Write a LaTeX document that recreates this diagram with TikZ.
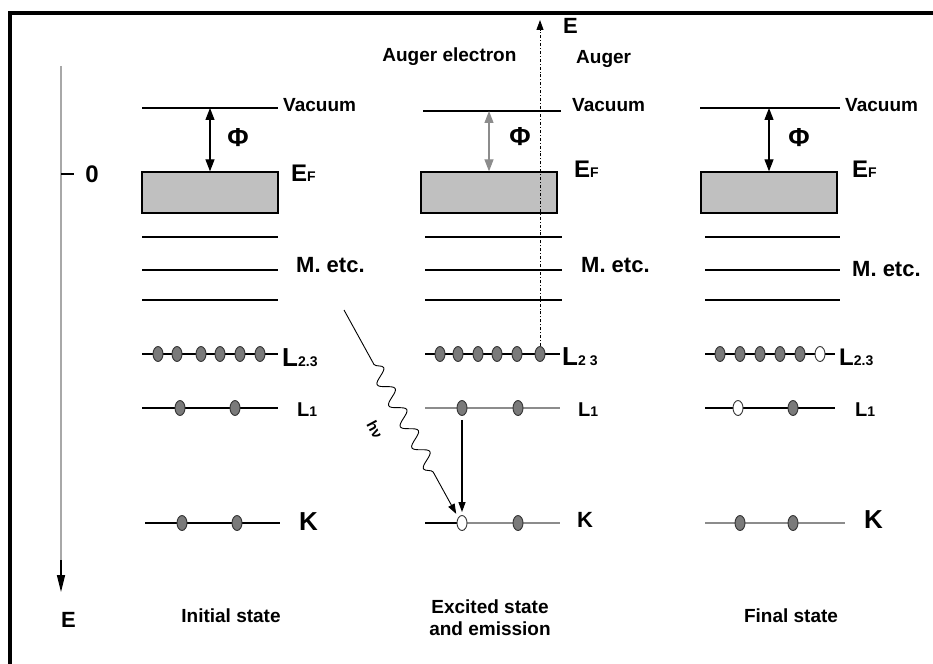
\documentclass[tikz,border=0pt]{standalone}
\usepackage{fontspec}
\setmainfont{Liberation Sans}
\usetikzlibrary{arrows.meta,calc,positioning,shapes.geometric,decorations.pathmorphing}
\definecolor{BandGray}{HTML}{C0C0C0}
\definecolor{ElecGray}{HTML}{7A7A7A}
\definecolor{AxisGray}{HTML}{A8A8A8}
\definecolor{FaintLine}{HTML}{8C8C8C}

% level symbol with a small index on the same baseline
\newcommand{\shellsub}[3]{{\fontsize{#3}{#3}\selectfont #1}{\fontsize{14}{14}\selectfont #2}}

\begin{document}
\begin{tikzpicture}[
    x=1pt, y=-1pt,
    font=\bfseries\fontsize{19}{22}\selectfont,
    >={Triangle[length=10pt,width=7pt]},
    lvl/.style={line width=1.3pt},
    faint/.style={line width=1.3pt,draw=FaintLine},
    band/.style={draw,fill=BandGray,line width=1.3pt,minimum width=136pt,minimum height=41pt,inner sep=0pt},
    elec/.style={ellipse,draw=black!80,fill=ElecGray,line width=0.9pt,minimum width=10pt,minimum height=15pt,inner sep=0pt},
    hole/.style={elec,fill=white},
    lbl/.style={anchor=base west,inner sep=0pt},
    big/.style={font=\bfseries\fontsize{22}{24}\selectfont},
    huge/.style={font=\bfseries\fontsize{26}{28}\selectfont},
    arr/.style={->,line width=1.2pt},
    dbl/.style={{Triangle[length=12pt,width=9pt]}-{Triangle[length=12pt,width=9pt]},line width=1.2pt},
    photon/.style={->,line width=0.9pt,shorten >=4pt,decorate,
      decoration={snake,amplitude=7pt,segment length=24pt,pre length=62pt,post length=44pt}}
  ]
  \useasboundingbox (0,0) rectangle (933,663);
  \draw[line width=4pt] (10,670) -- (10,13) -- (940,13);

  % energy axis
  \coordinate (axtop) at (61,66);
  \coordinate (axbot) at (61,592);
  \draw[AxisGray,line width=1.6pt] (axtop) -- (61,574);
  \draw[-{Triangle[length=17pt,width=8pt]},line width=1.3pt] (61,560) -- (axbot);
  \draw[line width=1.2pt] (61,174) -- (74,174);
  \node[font=\bfseries\fontsize{24}{24}\selectfont] (zero) at (92,174) {0};
  \node[lbl,font=\bfseries\fontsize{22}{22}\selectfont] (eaxis) at (61,627) {E};

  % initial state
  \draw[lvl] (142,108) -- (278,108);
  \node[lbl] (vac1) at (283,112) {Vacuum};
  \node[band] (band1) at (210,192.5) {};
  \node[lbl] (ef1) at (291,182) {\shellsub{E}{F}{24}};
  \draw[dbl] (band1.north |- 0,108) -- (band1.north);
  \node[huge] (phi1) at (238,138) {Φ};
  \draw[lvl] (142,237) -- (278,237);
  \draw[lvl] (142,270) -- (278,270);
  \draw[lvl] (142,300) -- (278,300);
  \node[lbl,big] (m1) at (296,272) {M. etc.};
  \draw[lvl] (142,354) -- (278,354);
  \node[elec] (l23a1) at (158,354) {};
  \node[elec] (l23b1) at (177,354) {};
  \node[elec] (l23c1) at (201,354) {};
  \node[elec] (l23d1) at (220,354) {};
  \node[elec] (l23e1) at (240,354) {};
  \node[elec] (l23f1) at (260,354) {};
  \node[lbl] (l23lbl1) at (282,366) {\shellsub{L}{2.3}{26}};
  \draw[lvl] (142,408) -- (278,408);
  \node[elec] (l1a1) at (180,408) {};
  \node[elec] (l1b1) at (235,408) {};
  \node[lbl] (l1lbl1) at (297,416) {\shellsub{L}{1}{20}};
  \draw[lvl] (145,523) -- (280,523);
  \node[elec] (ka1) at (182,523) {};
  \node[elec] (kb1) at (237,523) {};
  \node[lbl,huge] (klbl1) at (299,530) {K};
  \node (init) at (231,616) {Initial state};

  % excited state and emission
  \draw[lvl] (423,111) -- (561,111);
  \node[lbl] (vac2) at (572,112) {Vacuum};
  \node[band] (band2) at (489,192.5) {};
  \node[lbl] (ef2) at (574,177) {\shellsub{E}{F}{24}};
  \draw[dbl,draw=FaintLine,fill=black] (band2.north |- 0,111) -- (band2.north);
  \node[huge] (phi2) at (520,137) {Φ};
  \draw[lvl] (425,237) -- (562,237);
  \draw[lvl] (425,270) -- (562,270);
  \draw[lvl] (425,300) -- (562,300);
  \node[lbl,big] (m2) at (581,272) {M. etc.};
  \draw[lvl] (425,354) -- (560,354);
  \node[elec] (l23a2) at (440,354) {};
  \node[elec] (l23b2) at (458,354) {};
  \node[elec] (l23c2) at (478,354) {};
  \node[elec] (l23d2) at (497,354) {};
  \node[elec] (l23e2) at (517,354) {};
  \node[elec] (l23f2) at (540,354) {};
  \node[lbl] (l23lbl2) at (562,365) {\shellsub{L}{2 3}{26}};
  \draw[faint] (425,408) -- (560,408);
  \node[elec] (l1a2) at (462,408) {};
  \node[elec] (l1b2) at (518,408) {};
  \node[lbl] (l1lbl2) at (578,416) {\shellsub{L}{1}{20}};
  \draw[lvl] (425,523) -- (462,523);
  \draw[faint] (462,523) -- (560,523);
  \node[hole] (kh2) at (462,523) {};
  \node[elec] (kb2) at (518,523) {};
  \node[lbl,big] (klbl2) at (577,527) {K};
  \node[align=center] (exc) at (490,618) {Excited state\\and emission};

  % auger electron
  \coordinate (augtop) at (540,20);
  \draw[->,line width=0.9pt,dash dot] (l23f2.north) -- (augtop);
  \node[anchor=east] (auglbl) at (520,57) {Auger electron};
  \node[lbl,big] (eaug) at (563,34) {E};
  \node[lbl] (eaugsub) at (576,64) {Auger};

  % photon and filling transition
  \coordinate (hvsrc) at (344,310);
  \draw[photon] (hvsrc) -- (kh2.north west);
  \node[rotate=-62,inner sep=0pt,font=\bfseries\fontsize{15}{15}\selectfont] (hv) at (375,430) {hν};
  \draw[arr,shorten >=3pt] ([yshift=-4pt]l1a2.south) -- (kh2.north);

  % final state
  \draw[lvl] (700,108) -- (840,108);
  \node[lbl] (vac3) at (845,112) {Vacuum};
  \node[band] (band3) at (769,192.5) {};
  \node[lbl] (ef3) at (852,177) {\shellsub{E}{F}{24}};
  \draw[dbl] (band3.north |- 0,108) -- (band3.north);
  \node[huge] (phi3) at (799,138) {Φ};
  \draw[lvl] (705,237) -- (840,237);
  \draw[lvl] (705,270) -- (840,270);
  \draw[lvl] (705,300) -- (840,300);
  \node[lbl,big] (m3) at (852,276) {M. etc.};
  \draw[lvl] (705,354) -- (835,354);
  \node[elec] (l23a3) at (720,354) {};
  \node[elec] (l23b3) at (740,354) {};
  \node[elec] (l23c3) at (760,354) {};
  \node[elec] (l23d3) at (780,354) {};
  \node[elec] (l23e3) at (800,354) {};
  \node[hole] (l23f3) at (820,354) {};
  \node[lbl] (l23lbl3) at (839,365) {\shellsub{L}{2.3}{24}};
  \draw[lvl] (705,408) -- (835,408);
  \node[hole] (l1a3) at (738,408) {};
  \node[elec] (l1b3) at (793,408) {};
  \node[lbl] (l1lbl3) at (855,416) {\shellsub{L}{1}{20}};
  \draw[faint] (705,523) -- (845,523);
  \node[elec] (ka3) at (740,523) {};
  \node[elec] (kb3) at (793,523) {};
  \node[lbl,huge] (klbl3) at (864,528) {K};
  \node (fin) at (791,616) {Final state};
\end{tikzpicture}
\end{document}
